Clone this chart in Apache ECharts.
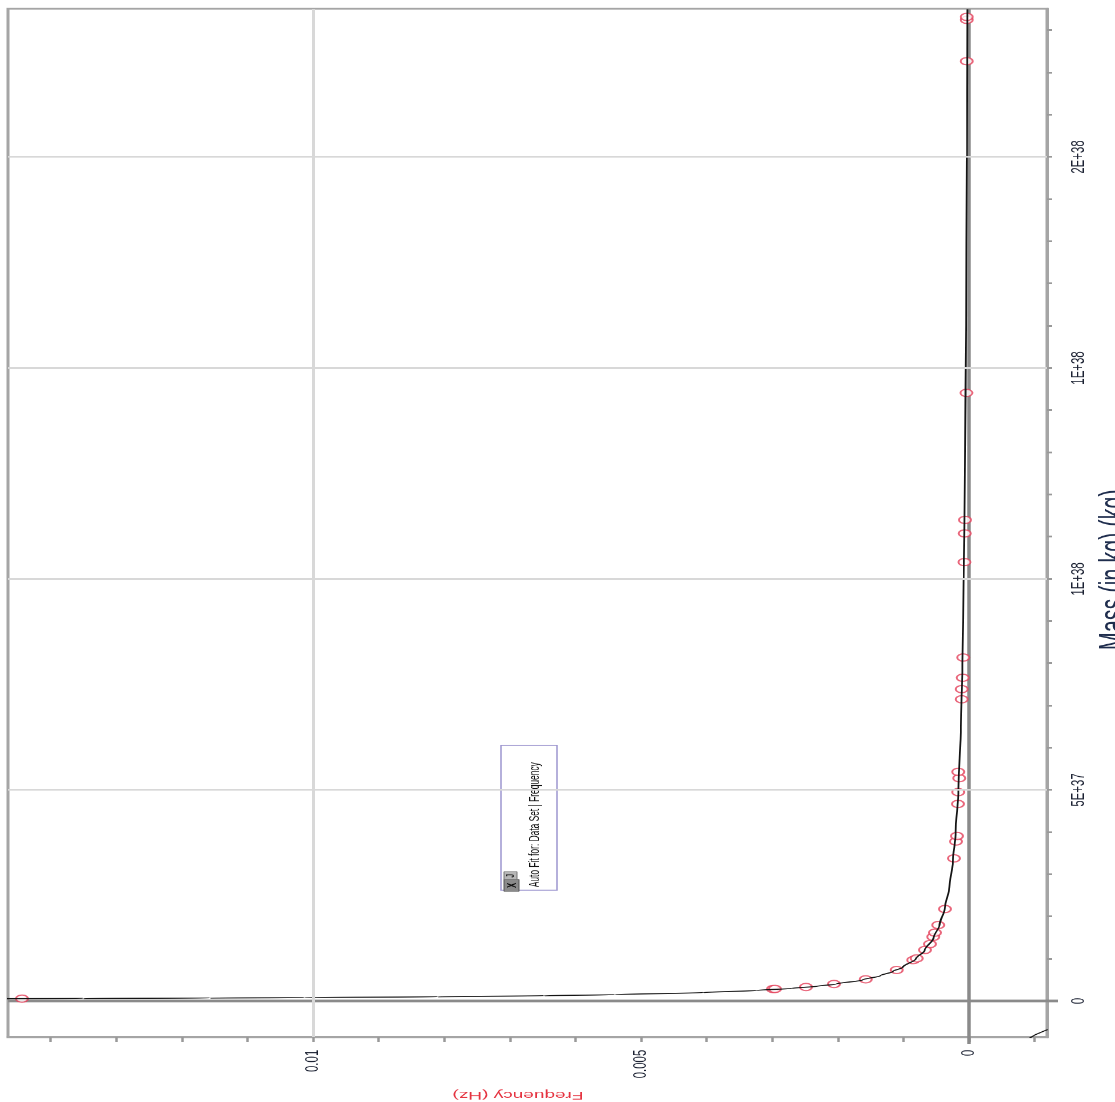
<!DOCTYPE html>
<html>
<head>
<meta charset="utf-8">
<script src="https://cdn.jsdelivr.net/npm/echarts@6/dist/echarts.min.js"></script>
<style>
  html, body { margin: 0; padding: 0; overflow: hidden; background: #fff; width: 1115px; height: 1102px; }
  #wrap { position: absolute; left: 0; top: 0; width: 1115px; height: 1102px; overflow: hidden; }
  /* the reference is a squeezed, rotated screenshot: draw upright, then squeeze and turn */
  #chart {
    position: absolute; left: 0; top: 0;
    width: 1837px; height: 1115px;
    transform-origin: 0 0;
    transform: translateY(1102px) rotate(-90deg) scaleX(0.6);
  }
</style>
</head>
<body>
<div id="wrap"><div id="chart"></div></div>
<script>
const FONT = "'Liberation Sans', Arial, sans-serif";

// measured points (mass in kg, frequency in Hz)
const pointMass = [5.6e35, 2.84e36, 2.86e36, 3.32e36, 4.03e36, 5.14e36, 7.35e36, 9.7e36, 1.01e37,
  1.21e37, 1.35e37, 1.52e37, 1.62e37, 1.80e37, 2.18e37, 3.38e37, 3.78e37, 3.91e37, 4.67e37,
  4.95e37, 5.28e37, 5.43e37, 7.15e37, 7.39e37, 7.66e37, 8.14e37, 1.04e38, 1.108e38, 1.14e38,
  1.441e38, 2.227e38, 2.325e38, 2.332e38];
const pointFreq = [0.014436, 0.002988, 0.002957, 0.002485, 0.002058, 0.001575, 0.001102, 0.000849, 0.000797,
  0.000671, 0.000595, 0.000544, 0.000518, 0.000468, 0.000366, 0.000229, 0.000198, 0.000183, 0.000168,
  0.000163, 0.000148, 0.000163, 0.000111, 0.000111, 0.000096, 0.000087, 0.00007, 0.000065, 0.000062,
  0.00004, 0.000035, 0.000035, 0.000035];

// auto fit curve
const fitMass = [5.4e35, 6e35, 7e35, 8e35, 1e36, 1.25e36, 1.5e36, 2e36, 2.5e36, 3e36, 3.5e36, 4e36,
  5e36, 6e36, 7e36, 8e36, 1e37, 1.2e37, 1.5e37, 1.8e37, 2.2e37, 2.7e37, 3.3e37, 4e37, 5e37,
  6.5e37, 8e37, 1e38, 1.25e38, 1.6e38, 2e38, 2.35e38];
const fitFreq = [0.0150, 0.0135, 0.01157, 0.01013, 0.0081, 0.00648, 0.0054, 0.00405, 0.00324, 0.0027,
  0.00231, 0.00203, 0.00162, 0.00135, 0.00116, 0.00101, 0.00081, 0.000675, 0.00054, 0.00045,
  0.000368, 0.0003, 0.000245, 0.000203, 0.000162, 0.000125, 0.000101, 0.000081, 0.000062,
  0.000045, 0.000032, 0.000025];
// negative branch of the fit, visible in the corner
const fitNegMass = [-9e36, -8e36, -7e36, -6.4e36];
const fitNegFreq = [-0.0009, -0.00101, -0.00116, -0.00127];

// axes
const massTicks = [0, 1e37, 2e37, 3e37, 4e37, 5e37, 6e37, 7e37, 8e37, 9e37, 1e38, 1.1e38, 1.2e38,
  1.3e38, 1.4e38, 1.5e38, 1.6e38, 1.7e38, 1.8e38, 1.9e38, 2e38, 2.1e38, 2.2e38, 2.3e38];
const massLabelValues = [0, 5e37, 1e38, 1.5e38, 2e38];
const massLabelText = ["0", "5E+37", "1E+38", "1E+38", "2E+38"];
const massGrid = [5e37, 1e38, 1.5e38, 2e38];

const freqTicks = [-0.001, 0, 0.001, 0.002, 0.003, 0.004, 0.005, 0.006, 0.007, 0.008, 0.009,
  0.01, 0.011, 0.012, 0.013, 0.014];
const freqLabelValues = [0, 0.005, 0.01];
const freqLabelText = ["0", "0.005", "0.01"];
const freqGrid = [0.005, 0.01];

const FIT_NAME = "Auto Fit for: Data Set | Frequency";

function labelFor(v, vals, texts) {
  const i = vals.findIndex((t) => Math.abs(t - v) <= Math.abs(t) * 1e-6 + 1e-12);
  return i >= 0 ? texts[i] : "";
}

const pair = (xs, ys) => xs.map((x, i) => [x, ys[i]]);

const GRID = { left: 108, right: 15, top: 8, bottom: 68 };

const chart = echarts.init(document.getElementById("chart"), null, { renderer: "canvas" });

chart.setOption({
  animation: false,
  backgroundColor: "#fff",
  textStyle: { fontFamily: FONT },
  grid: Object.assign({
    show: true, borderColor: "#a5a5a5", borderWidth: 3,
    containLabel: false, outerBoundsMode: "none"
  }, GRID),
  legend: {
    left: 353, top: 501,
    padding: [27, 28, 15, 0],
    itemWidth: 0, itemHeight: 0, itemGap: 0,
    borderColor: "#9d96cf", borderWidth: 1.5,
    backgroundColor: "#fff",
    selectedMode: false,
    textStyle: { fontSize: 14, color: "#111", fontFamily: FONT },
    data: [{ name: FIT_NAME, icon: "none" }]
  },
  xAxis: {
    type: "value", min: -8.578e36, max: 2.3512e38, position: "bottom",
    name: "Mass (in kg) (kg)", nameLocation: "middle", nameGap: 50,
    nameTextStyle: { fontSize: 36, color: "#1f2d4d", fontFamily: FONT, padding: [0, 156, 0, 0] },
    axisLine: { show: true, onZero: false, lineStyle: { color: "#a5a5a5", width: 3 } },
    axisTick: { show: true, customValues: massTicks, length: 5, lineStyle: { color: "#999", width: 3 } },
    axisLabel: {
      customValues: massLabelValues, fontSize: 19, margin: 22, color: "#1c2233", fontFamily: FONT,
      formatter: (v) => labelFor(v, massLabelValues, massLabelText)
    },
    splitLine: { show: false }
  },
  yAxis: {
    type: "value", min: -0.001189, max: 0.014649, position: "left",
    name: "Frequency (Hz)", nameLocation: "middle", nameGap: 87,
    nameTextStyle: { fontSize: 19, color: "#e53340", fontFamily: FONT, padding: [0, 0, 0, 19] },
    axisLine: { show: true, onZero: false, lineStyle: { color: "#a5a5a5", width: 3 } },
    axisTick: { show: true, customValues: freqTicks, length: 8, lineStyle: { color: "#999", width: 2.5 } },
    axisLabel: {
      customValues: freqLabelValues, fontSize: 19, margin: 21, color: "#1c2233", fontFamily: FONT,
      formatter: (v) => labelFor(v, freqLabelValues, freqLabelText)
    },
    splitLine: { show: false }
  },
  series: [
    {
      // grid lines only
      name: "grid", type: "scatter", data: [], z: 1, silent: true,
      markLine: {
        silent: true, symbol: "none", label: { show: false }, animation: false,
        data: [
          ...massGrid.map((v) => ({ xAxis: v, lineStyle: { color: "#d8d8d8", width: 3, type: "solid" } })),
          ...freqGrid.map((v) => ({ yAxis: v, lineStyle: { color: "#d8d8d8", width: 3, type: "solid" } }))
        ]
      }
    },
    {
      name: "Data Set | Frequency", type: "scatter", z: 3,
      symbol: "emptyCircle", symbolSize: 12,
      itemStyle: { color: "#e4405a", borderColor: "#e4405a", borderWidth: 1.8 },
      data: pair(pointMass, pointFreq)
    },
    {
      name: FIT_NAME, type: "line", z: 4, showSymbol: false, clip: true,
      smooth: 0.3, smoothMonotone: "x",
      lineStyle: { color: "#141414", width: 1.8 },
      itemStyle: { color: "#141414" },
      data: pair(fitMass, fitFreq)
    },
    {
      name: "fitNeg", type: "line", z: 4, showSymbol: false, clip: true,
      lineStyle: { color: "#141414", width: 1.6 },
      data: pair(fitNegMass, fitNegFreq)
    }
  ]
});

// zero lines (darker, running a bit past the axes) and the legend's little window buttons
const x0 = chart.convertToPixel({ xAxisIndex: 0 }, 0);
const y0 = chart.convertToPixel({ yAxisIndex: 0 }, 0);
const plotRight = 1837 - GRID.right;
const plotBottom = 1115 - GRID.bottom;

chart.setOption({
  graphic: [
    { type: "line", z: 2, silent: true, shape: { x1: x0, y1: GRID.top, x2: x0, y2: plotBottom + 11 },
      style: { stroke: "#8a8a8a", lineWidth: 4.5 } },
    { type: "line", z: 2, silent: true, shape: { x1: GRID.left - 11, y1: y0, x2: plotRight, y2: y0 },
      style: { stroke: "#8a8a8a", lineWidth: 3.5 } },
    { type: "rect", z: 10, silent: true, shape: { x: 351, y: 504, width: 20, height: 15 },
      style: { fill: "#8a8a8a", stroke: "#555", lineWidth: 1 } },
    { type: "text", z: 11, silent: true, x: 361, y: 512,
      style: { text: "X", fill: "#111", font: "bold 13px " + FONT, align: "center", verticalAlign: "middle" } },
    { type: "rect", z: 10, silent: true, shape: { x: 371, y: 504, width: 13, height: 13 },
      style: { fill: "#b5b5b5", stroke: "#777", lineWidth: 1 } },
    { type: "text", z: 11, silent: true, x: 377, y: 511,
      style: { text: "J", fill: "#222", font: "bold 11px " + FONT, align: "center", verticalAlign: "middle" } }
  ]
});
</script>
</body>
</html>
